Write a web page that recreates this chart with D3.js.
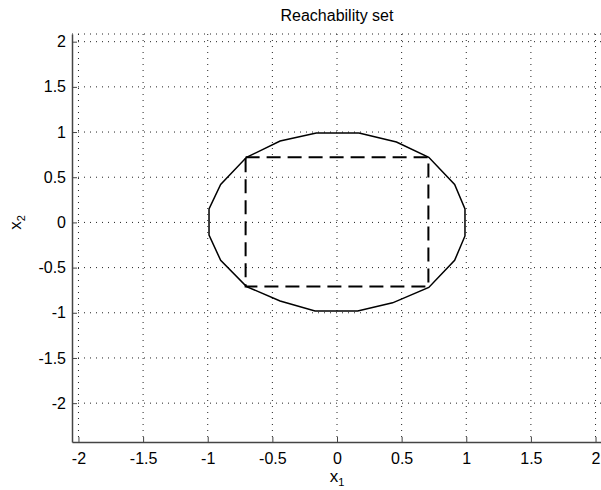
<!DOCTYPE html>
<html>
<head>
<meta charset="utf-8">
<script src="https://cdn.jsdelivr.net/npm/d3@7"></script>
<style>
  body { margin: 0; background: #fff; }
  svg { display: block; font-family: "Liberation Sans", Arial, sans-serif; }
  .grid line { stroke: #222; stroke-width: 1; stroke-dasharray: 1,5; }
  .axis path, .axis line { stroke: #444; }
  .axis text { fill: #000; font-size: 16px; }
</style>
</head>
<body>
<div id="chart"></div>
<script>
// ticks
var xTicks = [-2, -1.5, -1, -0.5, 0, 0.5, 1, 1.5, 2];
var yTicks = [-2, -1.5, -1, -0.5, 0, 0.5, 1, 1.5, 2];

// reachable set boundary (polygon vertices)
var setX = [0.17, 0.46, 0.71, 0.91, 0.99, 0.99, 0.91, 0.71, 0.43, 0.16,
            -0.17, -0.44, -0.70, -0.90, -0.99, -0.99, -0.90, -0.70, -0.44, -0.16, 0.17];
var setY = [0.99, 0.89, 0.72, 0.42, 0.15, -0.15, -0.42, -0.72, -0.89, -0.98,
            -0.98, -0.87, -0.71, -0.42, -0.14, 0.15, 0.42, 0.72, 0.90, 0.99, 0.99];

// dashed box
var boxX = [-0.707, 0.707, 0.707, -0.707, -0.707];
var boxY = [0.72, 0.72, -0.71, -0.71, 0.72];

var W = 601, H = 490;
var margin = {top: 34, right: 0, bottom: 48, left: 72},
    width = 530,
    height = H - margin.top - margin.bottom;

var svg = d3.select("#chart").append("svg")
    .attr("width", W)
    .attr("height", H);

var g = svg.append("g")
    .attr("transform", "translate(" + margin.left + "," + margin.top + ")");

var x = d3.scaleLinear().domain([-2.05, 2.05]).range([0, width]);
var y = d3.scaleLinear().domain([-2.43, 2.085]).range([height, 0]);

// grid
var grid = g.append("g").attr("class", "grid");
grid.selectAll(".gx").data(xTicks).enter().append("line")
    .attr("x1", function(d) { return x(d); })
    .attr("x2", function(d) { return x(d); })
    .attr("y1", 0).attr("y2", height);
grid.selectAll(".gy").data(yTicks).enter().append("line")
    .attr("x1", 0).attr("x2", width)
    .attr("y1", function(d) { return y(d); })
    .attr("y2", function(d) { return y(d); });
// top edge
grid.append("line")
    .attr("x1", 0).attr("x2", width)
    .attr("y1", 0).attr("y2", 0);

// Axes (ticks pointing inward)
g.append("g")
    .attr("class", "axis axis--x")
    .attr("transform", "translate(0," + height + ")")
    .call(d3.axisBottom(x).tickValues(xTicks).tickSize(-5).tickSizeOuter(0).tickPadding(8)
        .tickFormat(function(d) { return d + ""; }))
    .call(function(s) { s.select(".domain").attr("stroke-width", 1.5); s.selectAll("text").attr("dy", "0.85em"); });

g.append("g")
    .attr("class", "axis axis--y")
    .call(d3.axisLeft(y).tickValues(yTicks).tickSize(-5).tickSizeOuter(0).tickPadding(6)
        .tickFormat(function(d) { return d + ""; }))
    .call(function(s) { s.select(".domain").attr("stroke-width", 1.5); });

var line = d3.line()
    .x(function(d) { return x(d[0]); })
    .y(function(d) { return y(d[1]); });

g.append("path")
    .datum(d3.zip(boxX, boxY))
    .attr("fill", "none")
    .attr("stroke", "#000")
    .attr("stroke-width", 2)
    .attr("stroke-dasharray", "14,7")
    .attr("d", line);

g.append("path")
    .datum(d3.zip(setX, setY))
    .attr("fill", "none")
    .attr("stroke", "#000")
    .attr("stroke-width", 1.5)
    .attr("d", line);

// title
svg.append("text")
    .attr("x", margin.left + x(0))
    .attr("y", 21)
    .attr("text-anchor", "middle")
    .style("font-size", "16px")
    .text("Reachability set");

// x label
var xl = svg.append("text")
    .attr("x", margin.left + x(0))
    .attr("y", 482)
    .attr("text-anchor", "middle")
    .style("font-size", "17px");
xl.append("tspan").text("x");
xl.append("tspan").attr("dy", 4).style("font-size", "11px").text("1");

// y label
var yl = svg.append("text")
    .attr("transform", "translate(21," + (margin.top + y(0)) + ") rotate(-90)")
    .attr("text-anchor", "middle")
    .style("font-size", "17px");
yl.append("tspan").text("x");
yl.append("tspan").attr("dy", 4).style("font-size", "11px").text("2");
</script>
</body>
</html>
